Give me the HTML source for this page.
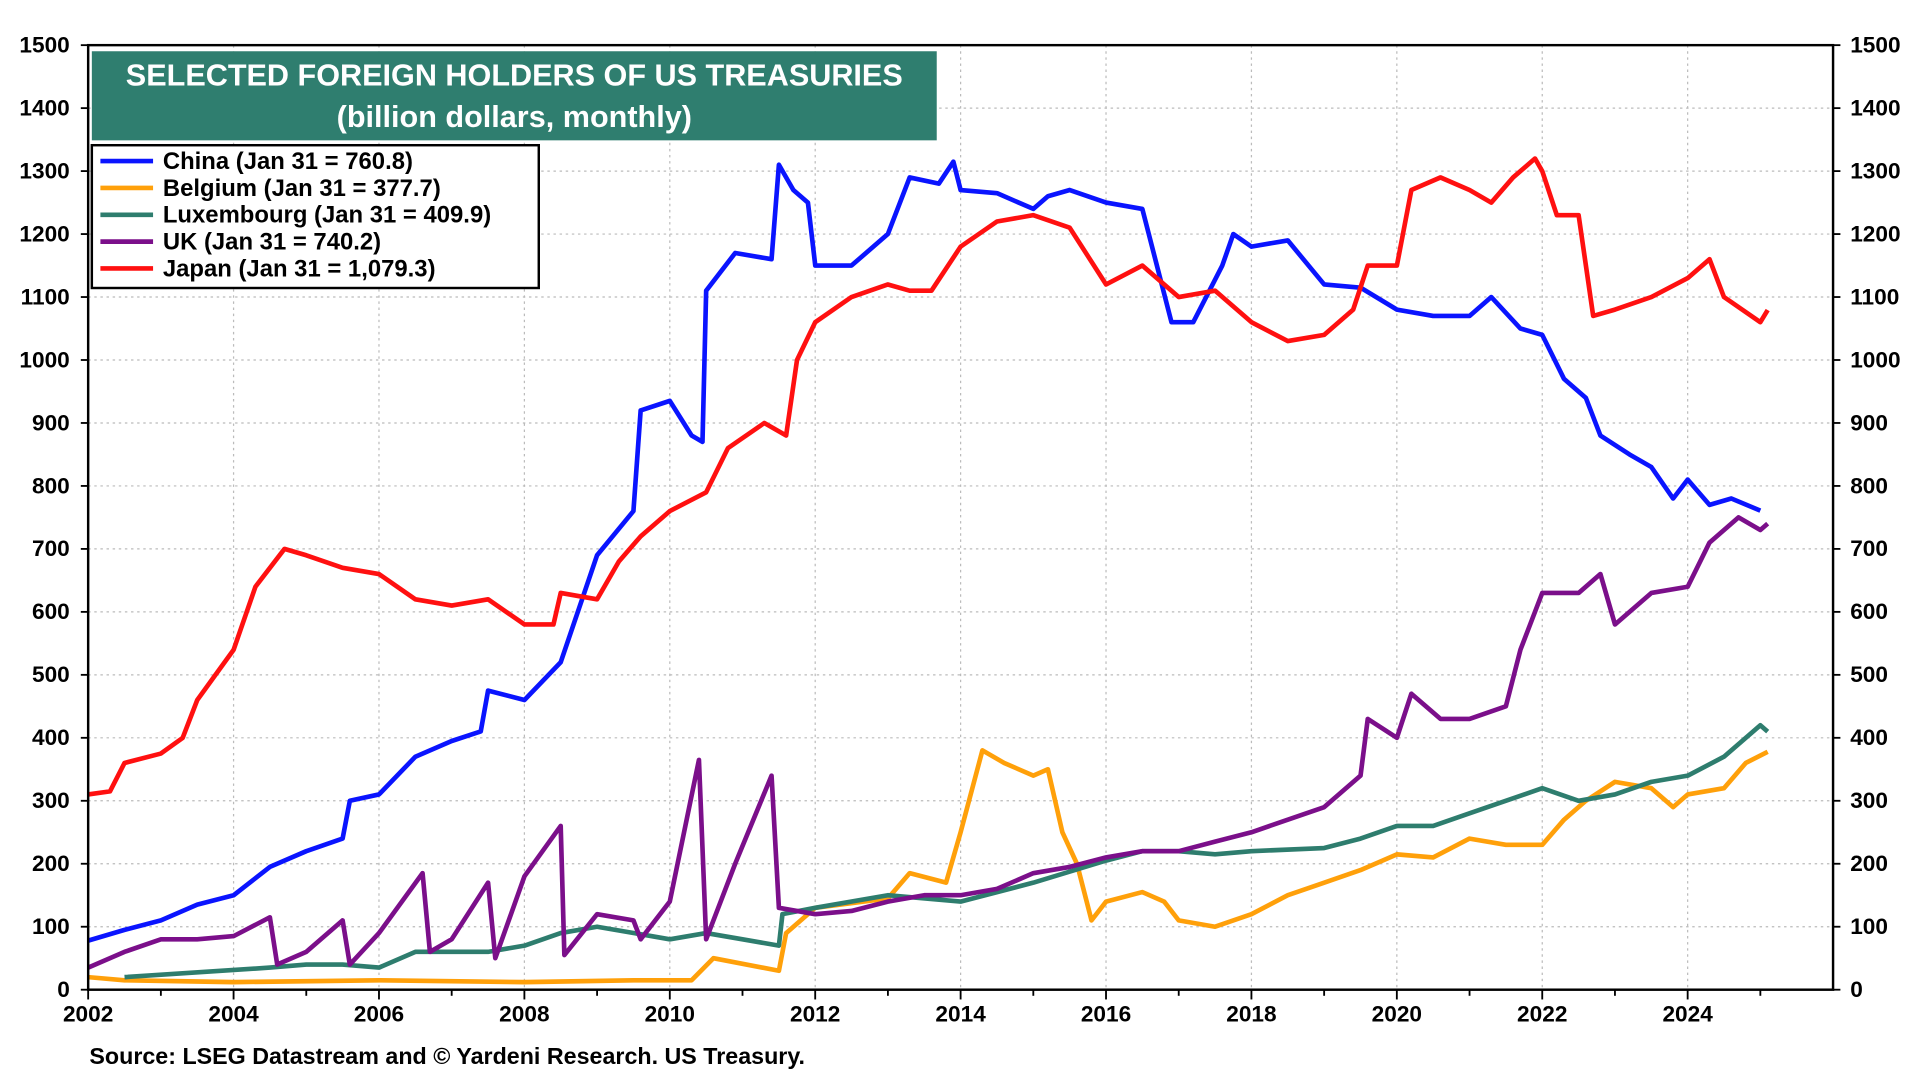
<!DOCTYPE html>
<html><head><meta charset="utf-8">
<style>
html,body{margin:0;padding:0;background:#fff;}
svg{display:block;font-family:"Liberation Sans",Arial,sans-serif;}
</style></head>
<body>
<svg id="chart" width="1920" height="1080" viewBox="0 0 1568 885" preserveAspectRatio="none" xmlns="http://www.w3.org/2000/svg">
<rect x="0" y="0" width="1568" height="885" fill="#fff"/>
<g id="grid"></g>
<g id="series"></g>
<rect x="72" y="37" width="1425" height="774" fill="none" stroke="#000" stroke-width="2"/>
<g id="axes"></g>
<rect x="75" y="42" width="690" height="73" fill="#2f7e6f"/>
<text x="420" y="70" fill="#fff" font-size="25" font-weight="bold" text-anchor="middle">SELECTED FOREIGN HOLDERS OF US TREASURIES</text>
<text x="420" y="104" fill="#fff" font-size="25" font-weight="bold" text-anchor="middle">(billion dollars, monthly)</text>
<g id="legend"></g>
<text x="73" y="872" font-size="19" font-weight="bold">Source: LSEG Datastream and © Yardeni Research. US Treasury.</text>
</svg>
<script>
const yTicks=[0,100,200,300,400,500,600,700,800,900,1000,1100,1200,1300,1400,1500];
const xTicks=[2002,2004,2006,2008,2010,2012,2014,2016,2018,2020,2022,2024];
const seriesNames=["China","Belgium","Luxembourg","UK","Japan"];
const legendLabels=["China (Jan 31 = 760.8)","Belgium (Jan 31 = 377.7)","Luxembourg (Jan 31 = 409.9)","UK (Jan 31 = 740.2)","Japan (Jan 31 = 1,079.3)"];
const colors=["#0a14ff","#ffa00a","#2e7d6e","#7b0f8a","#ff1010"];
const chinaT=[2002,2002.5,2003,2003.5,2004,2004.5,2005,2005.5,2005.6,2006,2006.5,2007,2007.4,2007.5,2008,2008.5,2009,2009.5,2009.6,2010,2010.3,2010.45,2010.5,2010.9,2011.4,2011.5,2011.7,2011.9,2012,2012.5,2013,2013.3,2013.7,2013.9,2014,2014.5,2015,2015.2,2015.5,2016,2016.5,2016.9,2017.2,2017.6,2017.75,2018,2018.5,2019,2019.5,2020,2020.5,2021,2021.3,2021.7,2022,2022.3,2022.6,2022.8,2023.2,2023.5,2023.8,2024,2024.3,2024.6,2025];
const chinaV=[78,95,110,135,150,195,220,240,300,310,370,395,410,475,460,520,690,760,920,935,880,870,1110,1170,1160,1310,1270,1250,1150,1150,1200,1290,1280,1315,1270,1265,1240,1260,1270,1250,1240,1060,1060,1150,1200,1180,1190,1120,1115,1080,1070,1070,1100,1050,1040,970,940,880,850,830,780,810,770,780,760.8];
const belT=[2002,2002.5,2004,2006,2008,2009.5,2010.3,2010.6,2011.5,2011.6,2012,2013,2013.3,2013.8,2014,2014.3,2014.6,2015,2015.2,2015.4,2015.6,2015.8,2016,2016.5,2016.8,2017,2017.5,2018,2018.5,2019,2019.5,2020,2020.5,2021,2021.5,2022,2022.3,2022.6,2023,2023.5,2023.8,2024,2024.5,2024.8,2025.1];
const belV=[20,15,12,15,12,15,15,50,30,90,130,145,185,170,250,380,360,340,350,250,200,110,140,155,140,110,100,120,150,170,190,215,210,240,230,230,270,300,330,320,290,310,320,360,377.7];
const luxT=[2002.5,2004.5,2005,2005.5,2006,2006.5,2007.5,2008,2008.5,2009,2010,2010.5,2011,2011.5,2011.55,2012,2013,2014,2015,2016,2016.5,2017,2017.5,2018,2019,2019.5,2020,2020.5,2021,2022,2022.5,2023,2023.5,2024,2024.5,2025,2025.1];
const luxV=[20,35,40,40,35,60,60,70,90,100,80,90,80,70,120,130,150,140,170,205,220,220,215,220,225,240,260,260,280,320,300,310,330,340,370,420,409.9];
const ukT=[2002,2002.5,2003,2003.5,2004,2004.5,2004.6,2005,2005.5,2005.6,2006,2006.6,2006.7,2007,2007.5,2007.6,2008,2008.5,2008.55,2009,2009.5,2009.6,2010,2010.4,2010.5,2010.9,2011.4,2011.5,2012,2012.5,2013,2013.5,2014,2014.5,2015,2015.5,2016,2016.5,2017,2017.5,2018,2018.5,2019,2019.5,2019.6,2020,2020.2,2020.6,2021,2021.5,2021.7,2022,2022.5,2022.8,2023,2023.5,2024,2024.3,2024.7,2025,2025.1];
const ukV=[35,60,80,80,85,115,40,60,110,40,90,185,60,80,170,50,180,260,55,120,110,80,140,365,80,200,340,130,120,125,140,150,150,160,185,195,210,220,220,235,250,270,290,340,430,400,470,430,430,450,540,630,630,660,580,630,640,710,750,730,740.2];
const japT=[2002,2002.3,2002.5,2003,2003.3,2003.5,2004,2004.3,2004.7,2005,2005.5,2006,2006.5,2007,2007.5,2008,2008.4,2008.5,2009,2009.3,2009.6,2010,2010.5,2010.8,2011.3,2011.6,2011.75,2012,2012.5,2013,2013.3,2013.6,2014,2014.5,2015,2015.5,2016,2016.5,2017,2017.5,2018,2018.5,2019,2019.4,2019.6,2020,2020.2,2020.6,2021,2021.3,2021.6,2021.9,2022,2022.2,2022.5,2022.7,2023,2023.5,2024,2024.3,2024.5,2025,2025.1];
const japV=[310,315,360,375,400,460,540,640,700,690,670,660,620,610,620,580,580,630,620,680,720,760,790,860,900,880,1000,1060,1100,1120,1110,1110,1180,1220,1230,1210,1120,1150,1100,1110,1060,1030,1040,1080,1150,1150,1270,1290,1270,1250,1290,1320,1300,1230,1230,1070,1080,1100,1130,1160,1100,1060,1079.3];
const seriesT=[chinaT,belT,luxT,ukT,japT];
const seriesV=[chinaV,belV,luxV,ukV,japV];
const X0=72,X1=1497,Y0=811,Y1=37;
const xs=t=>X0+(t-2002)/(2026-2002)*(X1-X0);
const ys=v=>Y0-v/1500*(Y0-Y1);
const NS="http://www.w3.org/2000/svg";
function mk(tag,attrs,parent){const e=document.createElementNS(NS,tag);for(const k in attrs)e.setAttribute(k,attrs[k]);parent.appendChild(e);return e;}
const grid=document.getElementById('grid'),axes=document.getElementById('axes'),ser=document.getElementById('series'),leg=document.getElementById('legend');
yTicks.forEach(v=>{
  const y=ys(v);
  if(v>0&&v<1500){const l=mk('line',{x1:X0,x2:X1,y1:y,y2:y,stroke:'#bbb','stroke-dasharray':'2,3','stroke-width':1},grid);
  
  }
  const a=mk('text',{x:57,y:y+6,'font-size':18.5,'font-weight':'bold','text-anchor':'end'},axes);a.textContent=v;
  
  
  const b=mk('text',{x:1511,y:y+6,'font-size':18.5,'font-weight':'bold'},axes);b.textContent=v;
  
  
  mk('line',{x1:X0-6,x2:X0,y1:y,y2:y,stroke:'#000','stroke-width':1.5},axes);
  mk('line',{x1:X1,x2:X1+6,y1:y,y2:y,stroke:'#000','stroke-width':1.5},axes);
});
xTicks.forEach(t=>{
  const x=xs(t);
  if(t>2002){const l=mk('line',{x1:x,x2:x,y1:Y1,y2:Y0,stroke:'#bbb','stroke-dasharray':'2,3','stroke-width':1},grid);
  
  }
  const a=mk('text',{x:x,y:837,'font-size':18.5,'font-weight':'bold','text-anchor':'middle'},axes);a.textContent=t;
  
  
});
for(let yr=2002;yr<2026;yr++){mk('line',{x1:xs(yr),x2:xs(yr),y1:Y0,y2:Y0+(yr%2===0?8:5),stroke:'#000','stroke-width':1.5},axes);}
seriesT.forEach((T,i)=>{
  const V=seriesV[i];
  const d=T.map((t,j)=>(j?'L':'M')+xs(t).toFixed(1)+','+ys(V[j]).toFixed(1)).join(' ');
  const p=mk('path',{d:d,fill:'none',stroke:colors[i],'stroke-width':3.8,'stroke-linejoin':'round'},ser);
  
  
});
const r=mk('rect',{x:75,y:119,width:365,height:117,fill:'#fff',stroke:'#000','stroke-width':2},leg);


legendLabels.forEach((s,i)=>{
  const y=132+i*22;
  mk('line',{x1:82,x2:125,y1:y,y2:y,stroke:colors[i],'stroke-width':3.8},leg);
  const t=mk('text',{x:133,y:y+6.5,'font-size':19.5,'font-weight':'bold'},leg);t.textContent=s;
  
  
});
</script>
</body></html>
